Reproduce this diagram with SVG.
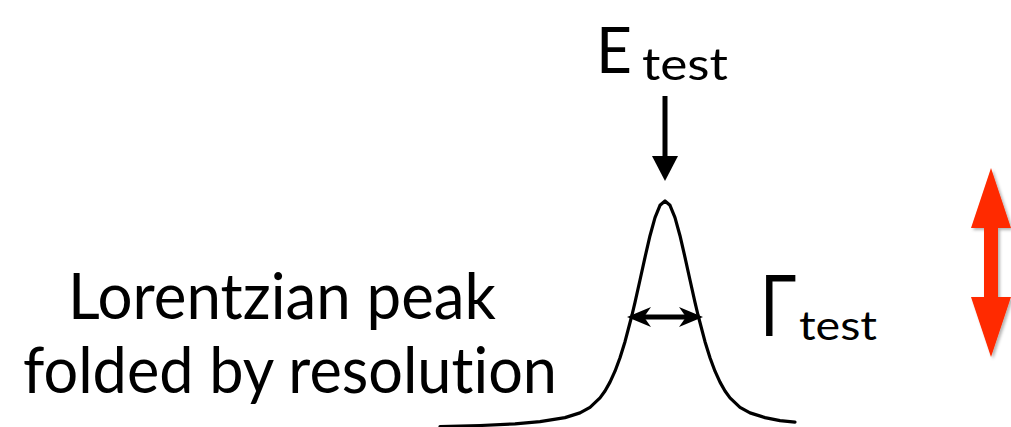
<svg xmlns="http://www.w3.org/2000/svg" width="1011" height="427" viewBox="0 0 1011 427">
<style>
text{font-family:Lato,"Open Sans","Liberation Sans",sans-serif;fill:#000;font-variant-ligatures:none}
.curve{fill:none;stroke:#000;stroke-width:3.2;stroke-linejoin:round;stroke-linecap:round}
.conn{fill:none;stroke:#000}
</style>
<defs>
<marker id="tri" viewBox="0 0 25 26" refX="0" refY="13" markerWidth="25" markerHeight="26" markerUnits="userSpaceOnUse" orient="auto">
<path d="M0,0 L25,13 L0,26 Z" fill="#000"/>
</marker>
<marker id="stealth" viewBox="0 0 24 20" refX="13" refY="10" markerWidth="24" markerHeight="20" markerUnits="userSpaceOnUse" orient="auto-start-reverse">
<path d="M0,0 L24,10 L0,20 L7,10 Z" fill="#000"/>
</marker>
<filter id="sh" x="-30%" y="-10%" width="160%" height="120%">
<feDropShadow dx="2" dy="2" stdDeviation="1.5" flood-color="#000" flood-opacity="0.3"/>
</filter>
</defs>
<g id="label-left">
<text x="68" y="319" font-size="64" textLength="428" lengthAdjust="spacingAndGlyphs">Lorentzian peak</text>
<text x="23" y="393" font-size="64" textLength="534" lengthAdjust="spacingAndGlyphs">folded by resolution</text>
</g>
<g id="peak">
<polyline class="curve" points="440,426.6 480,425.5 515,423.8 540,421.6 565,417.6 580,412.9 590,407.3 600,397.9 605,391 610,382.1 615,371.2 620,357.7 625,341.7 632,315 635,302.3 640,280 645,257.3 650,235.7 655,217.6 660,205.3 665,201 670,205.3 675,217.6 680,235.7 685,257.3 690,280 695,302.3 698,315 705,341.7 710,357.7 715,371.2 720,382.1 725,391 730,397.9 740,407.3 750,412.9 765,417.6 780,420.6 795,422.1"/>
</g>
<g id="e-test">
<text y="73" font-size="64"><tspan x="596" textLength="36" lengthAdjust="spacingAndGlyphs">E</tspan><tspan x="642" y="80" font-size="45" textLength="86" lengthAdjust="spacingAndGlyphs">test</tspan></text>
</g>
<g id="gamma-test">
<text transform="translate(760,336) scale(0.78,1)" font-size="85">Γ</text>
<text x="799" y="340" font-size="40" textLength="78" lengthAdjust="spacingAndGlyphs">test</text>
</g>
<g id="connectors">
<line class="conn" stroke-width="5" x1="665" y1="96" x2="665" y2="156" marker-end="url(#tri)"/>
<line class="conn" stroke-width="5" x1="638" y1="317" x2="692" y2="317" marker-start="url(#stealth)" marker-end="url(#stealth)"/>
</g>
<g id="red-arrow" filter="url(#sh)">
<path d="M991,168 L1011,228 L998,228 L998,297 L1011,297 L991,357 L971,297 L984,297 L984,228 L971,228 Z" fill="#FF2A00"/>
</g>
</svg>
